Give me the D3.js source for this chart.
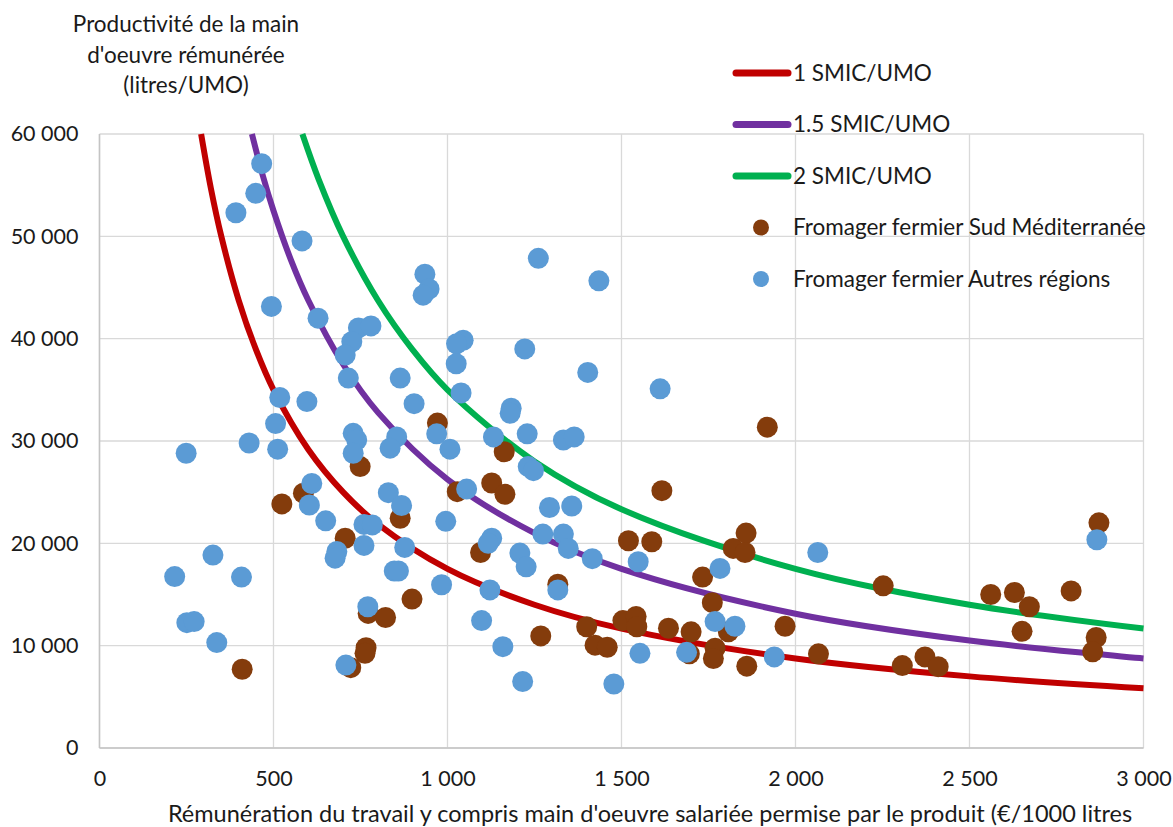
<!DOCTYPE html>
<html>
<head>
<meta charset="utf-8">
<script src="https://cdn.jsdelivr.net/npm/d3@7"></script>
<style>
  body { margin: 0; background: #fff; }
  text { font-family: Lato, "Open Sans", sans-serif; fill: #1a1a1a; }
</style>
</head>
<body>
<div id="vis"></div>
<script>
// Productivité vs rémunération - fromagers fermiers

const FRAME_WIDTH = 1173;
const FRAME_HEIGHT = 827;
const MARGINS = {left: 99.5, right: 29.5, top: 134, bottom: 79};

const VIS_WIDTH = FRAME_WIDTH - MARGINS.left - MARGINS.right;
const VIS_HEIGHT = FRAME_HEIGHT - MARGINS.top - MARGINS.bottom;

// axis ticks
const X_TICKS = [0, 500, 1000, 1500, 2000, 2500, 3000];
const Y_TICKS = [0, 10000, 20000, 30000, 40000, 50000, 60000];

// iso-remuneration curves
const CURVE_NAMES = ["1 SMIC/UMO", "1.5 SMIC/UMO", "2 SMIC/UMO"];
const CURVE_COLORS = ["#C00000", "#7030A0", "#00B050"];
const SMIC1_X = [292, 320, 350, 400, 450, 500, 600, 700, 800, 1000, 1250, 1500, 2000, 2500, 3000];
const SMIC1_Y = [60000, 54700, 50000, 43750, 38900, 35000, 29170, 25000, 21875, 17500, 14000, 11670, 8750, 7000, 5830];
const SMIC15_X = [438, 470, 500, 550, 600, 700, 800, 1000, 1250, 1500, 2000, 2500, 3000];
const SMIC15_Y = [60000, 55850, 52500, 47700, 43750, 37500, 32800, 26250, 21000, 17500, 13125, 10500, 8750];
const SMIC2_X = [583, 630, 700, 800, 900, 1000, 1250, 1500, 2000, 2500, 3000];
const SMIC2_Y = [60000, 55550, 50000, 43750, 38900, 35000, 28000, 23330, 17500, 14000, 11670];

// Fromager fermier Sud Méditerranée
const SUD_X = [749, 586, 524, 864, 706, 898, 772, 822, 766, 763, 722, 410, 971, 1919, 1163, 1127, 1165, 1028, 1616, 1095,
               1520, 1587, 1821, 1858, 1855, 1733, 1317, 1761, 1807, 1400, 1504, 1542, 1544, 1635, 1700, 1268, 1424, 1459,
               1695, 1769, 1764, 1860, 1970, 2252, 2066, 2307, 2372, 2410, 2561, 2629, 2672, 2651, 2792, 2872, 2864, 2854];
const SUD_Y = [27500, 24900, 23850, 22450, 20500, 14550, 13150, 12750, 9800, 9250, 7850, 7700, 31750, 31350, 28950, 25900, 24800, 25050, 25150, 19100,
               20250, 20150, 19500, 21000, 19100, 16700, 16000, 14200, 11350, 11850, 12450, 12850, 11850, 11700, 11350, 10950, 10050, 9850,
               9200, 9750, 8750, 8000, 11900, 15850, 9200, 8050, 8900, 7950, 15000, 15200, 13800, 11400, 15350, 22000, 10800, 9400];

// Fromager fermier Autres régions
const AUTRES_X = [466, 449, 392, 582, 935, 947, 930, 494, 628, 744, 780, 725, 706, 715, 864, 904, 518, 596, 506, 729,
                  739, 729, 854, 835, 969, 430, 512, 249, 610, 603, 650, 830, 868, 760, 784, 760, 682, 677, 877, 847,
                  859, 983, 771, 708, 326, 216, 408, 251, 272, 337, 1261, 1435, 1045, 1026, 1222, 1025, 1403, 1611, 1039, 1183,
                  1180, 1132, 1229, 1333, 1364, 1007, 1232, 1247, 1055, 1293, 1357, 995, 1274, 1333, 1347, 1416, 1127, 1117, 1208, 1226,
                  1548, 1783, 1317, 1122, 1769, 1826, 1098, 1159, 1553, 1687, 1939, 1216, 1478, 2064, 2866];
const AUTRES_Y = [57100, 54200, 52300, 49550, 46300, 44850, 44250, 43150, 42000, 41050, 41250, 39700, 38400, 36150, 36150, 33650, 34250, 33850, 31700, 30750,
                  30100, 28800, 30400, 29300, 30700, 29800, 29200, 28800, 25850, 23750, 22200, 24950, 23700, 21850, 21800, 19800, 19200, 18550, 19600, 17300,
                  17300, 15950, 13800, 8100, 18850, 16750, 16700, 12250, 12350, 10300, 47850, 45650, 39850, 39500, 39000, 37550, 36700, 35100, 34700, 33200,
                  32700, 30400, 30700, 30100, 30400, 29200, 27500, 27100, 25300, 23500, 23650, 22150, 20900, 20900, 19500, 18500, 20500, 20000, 19050, 17700,
                  18200, 17550, 15450, 15450, 12350, 11900, 12450, 9900, 9250, 9350, 8900, 6500, 6250, 19100, 20350];

const FMT = d3.formatLocale({decimal: ",", thousands: " ", grouping: [3], currency: ["", "€"]}).format(",");

const FRAME = d3.select("#vis")
                .append("svg")
                  .attr("width", FRAME_WIDTH)
                  .attr("height", FRAME_HEIGHT);

// scales
const X_SCALE = d3.scaleLinear()
                    .domain([0, 3000])
                    .range([MARGINS.left, MARGINS.left + VIS_WIDTH]);
const Y_SCALE = d3.scaleLinear()
                    .domain([0, 60000])
                    .range([MARGINS.top + VIS_HEIGHT, MARGINS.top]);

// grid
FRAME.append("g")
      .selectAll("line")
      .data(X_TICKS)
      .enter()
      .append("line")
        .attr("x1", (d) => X_SCALE(d))
        .attr("x2", (d) => X_SCALE(d))
        .attr("y1", MARGINS.top)
        .attr("y2", MARGINS.top + VIS_HEIGHT)
        .attr("stroke", "#d9d9d9")
        .attr("stroke-width", 1.3);

FRAME.append("g")
      .selectAll("line")
      .data(Y_TICKS)
      .enter()
      .append("line")
        .attr("x1", MARGINS.left)
        .attr("x2", MARGINS.left + VIS_WIDTH)
        .attr("y1", (d) => Y_SCALE(d))
        .attr("y2", (d) => Y_SCALE(d))
        .attr("stroke", "#d9d9d9")
        .attr("stroke-width", 1.3);

// axis lines
FRAME.append("line")
      .attr("x1", MARGINS.left).attr("x2", MARGINS.left + VIS_WIDTH)
      .attr("y1", Y_SCALE(0)).attr("y2", Y_SCALE(0))
      .attr("stroke", "#c4c4c4").attr("stroke-width", 1.5);
FRAME.append("line")
      .attr("x1", MARGINS.left).attr("x2", MARGINS.left)
      .attr("y1", MARGINS.top).attr("y2", Y_SCALE(0))
      .attr("stroke", "#c4c4c4").attr("stroke-width", 1.5);

// tick labels
const xAxis = FRAME.append("g")
      .attr("transform", "translate(0," + Y_SCALE(0) + ")")
      .call(d3.axisBottom(X_SCALE).tickValues(X_TICKS).tickFormat(FMT).tickSize(0).tickPadding(23));
const yAxis = FRAME.append("g")
      .attr("transform", "translate(" + MARGINS.left + ",0)")
      .call(d3.axisLeft(Y_SCALE).tickValues(Y_TICKS).tickFormat(FMT).tickSize(0).tickPadding(21));

[xAxis, yAxis].forEach((g) => {
  g.select(".domain").remove();
  g.selectAll("text")
    .attr("font-size", "21.5px")
    .attr("font-family", "Lato, sans-serif")
    .attr("fill", "#1a1a1a");
});

// curves
const CURVES = [
  {x: SMIC1_X, y: SMIC1_Y},
  {x: SMIC15_X, y: SMIC15_Y},
  {x: SMIC2_X, y: SMIC2_Y}
];

const LINE = d3.line()
                .x((d) => X_SCALE(d[0]))
                .y((d) => Y_SCALE(d[1]))
                .curve(d3.curveCatmullRom.alpha(0.5));

CURVES.forEach((c, i) => {
  FRAME.append("path")
        .datum(c.x.map((xv, j) => [xv, c.y[j]]))
        .attr("d", LINE)
        .attr("fill", "none")
        .attr("stroke", CURVE_COLORS[i])
        .attr("stroke-width", 6);
});

// points : brown first, blue on top
FRAME.append("g")
      .selectAll("circle")
      .data(SUD_X)
      .enter()
      .append("circle")
        .attr("cx", (d) => X_SCALE(d))
        .attr("cy", (d, i) => Y_SCALE(SUD_Y[i]))
        .attr("r", 10.5)
        .attr("fill", "#843C0C");

FRAME.append("g")
      .selectAll("circle")
      .data(AUTRES_X)
      .enter()
      .append("circle")
        .attr("cx", (d) => X_SCALE(d))
        .attr("cy", (d, i) => Y_SCALE(AUTRES_Y[i]))
        .attr("r", 10.5)
        .attr("fill", "#5B9BD5");

// legend
const LEG_X = 733, LEG_Y = 73, LEG_STEP = 51.5;
CURVE_NAMES.forEach((name, i) => {
  FRAME.append("line")
        .attr("x1", LEG_X + 3).attr("x2", LEG_X + 55)
        .attr("y1", LEG_Y + i * LEG_STEP).attr("y2", LEG_Y + i * LEG_STEP)
        .attr("stroke", CURVE_COLORS[i])
        .attr("stroke-width", 7)
        .attr("stroke-linecap", "round");
});
const POINT_NAMES = ["Fromager fermier Sud Méditerranée", "Fromager fermier Autres régions"];
const POINT_COLORS = ["#843C0C", "#5B9BD5"];
POINT_NAMES.forEach((name, i) => {
  FRAME.append("circle")
        .attr("cx", LEG_X + 28)
        .attr("cy", LEG_Y + (i + 3) * LEG_STEP)
        .attr("r", 8)
        .attr("fill", POINT_COLORS[i]);
});
CURVE_NAMES.concat(POINT_NAMES).forEach((name, i) => {
  FRAME.append("text")
        .attr("x", 793)
        .attr("y", LEG_Y + i * LEG_STEP)
        .attr("dy", "0.35em")
        .attr("font-size", "22.5px")
        .text(name);
});

// titles
const Y_TITLE = ["Productivité de la main", "d'oeuvre rémunérée", "(litres/UMO)"];
FRAME.append("text")
      .attr("text-anchor", "middle")
      .attr("font-size", "22.5px")
      .selectAll("tspan")
      .data(Y_TITLE)
      .enter()
      .append("tspan")
        .attr("x", 186)
        .attr("y", (d, i) => 32 + i * 30.5)
        .text((d) => d);

FRAME.append("text")
      .attr("x", 650)
      .attr("y", 822)
      .attr("text-anchor", "middle")
      .attr("font-size", "23.5px")
      .text("Rémunération du travail y compris main d'oeuvre salariée permise par le produit (€/1000 litres");
</script>
</body>
</html>
